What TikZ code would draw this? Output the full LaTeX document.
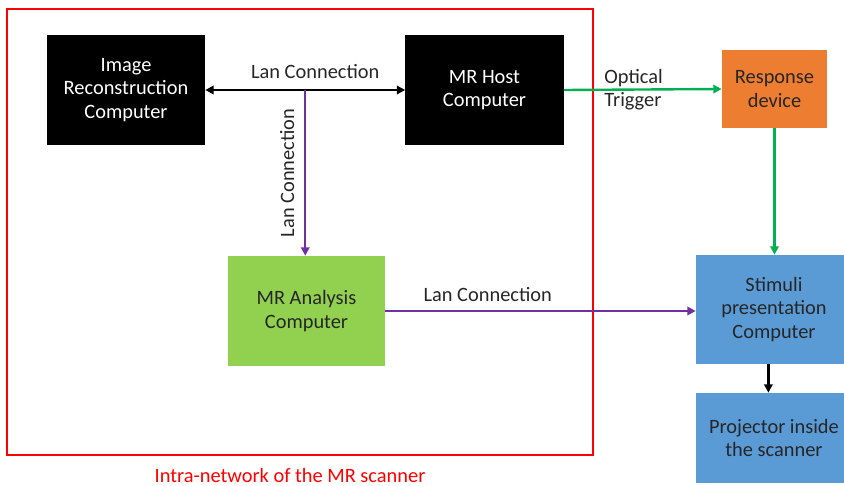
\documentclass[tikz,border=0pt]{standalone}
\usepackage{fontspec}
\setmainfont{Carlito}
\usetikzlibrary{arrows.meta,positioning,calc}

\definecolor{hostblack}{HTML}{000000}
\definecolor{resporange}{HTML}{ED7D31}
\definecolor{analysisgreen}{HTML}{92D050}
\definecolor{stimblue}{HTML}{5B9BD5}
\definecolor{lanpurple}{HTML}{7030A0}
\definecolor{trigreen}{HTML}{00B050}
\definecolor{darktext}{HTML}{262626}

\tikzset{
  unit/.style={align=center, inner sep=0pt, font=\fontsize{14.5}{16.5}\selectfont},
  pcbox/.style={unit, fill=hostblack, text=white, minimum width=3.95cm, minimum height=2.75cm},
  link/.style={line width=1.7pt, -{Triangle[length=6pt,width=6pt]}},
  linklabel/.style={font=\fontsize{14.5}{16.5}\selectfont, text=darktext, inner sep=0pt}
}

\begin{document}
\begin{tikzpicture}[x=0.025cm,y=-0.025cm]
  \useasboundingbox (0,0) rectangle (844,486);

  % scanner network frame
  \draw[red, line width=1.6pt] (7,9) rectangle (593,455);
  \node[text=red, font=\fontsize{14.5}{16.5}\selectfont] (netlabel) at (290,475) {Intra-network of the MR scanner};

  % computers inside the network
  \node[pcbox] (recon) at (126,90) {Image\\Reconstruction\\Computer};
  \node[pcbox] (host) at (484.5,90) {MR Host\\Computer};
  \node[unit, fill=analysisgreen, text=darktext, minimum width=3.925cm, minimum height=2.75cm] (analysis) at (306.5,311) {MR Analysis\\Computer};

  % devices outside
  \node[unit, fill=resporange, text=darktext, minimum width=2.625cm, minimum height=1.95cm] (resp) at (774.5,89) {Response\\device};
  \node[unit, fill=stimblue, text=darktext, minimum width=3.9cm, minimum height=2.725cm] (stim) at (774,309.5) {Stimuli\\presentation\\Computer};
  \node[unit, fill=stimblue, text=darktext, minimum width=3.9cm, minimum height=2.25cm] (proj) at (774,438) {Projector inside\\the scanner};

  % connections
  \draw[link, {Triangle[length=6pt,width=6pt]}-{Triangle[length=6pt,width=6pt]}, line width=1.5pt] (recon.east) -- (host.west)
    node[linklabel, pos=0.55, above=7pt] (lanA) {Lan Connection};
  \coordinate (split) at ($(recon.east)!0.5!(host.west)$);
  \draw[link, lanpurple] (split) -- (split |- analysis.north)
    node[linklabel, pos=0.5, left=7pt, rotate=90, anchor=south] (lanB) {Lan Connection};
  \draw[link, lanpurple] (analysis.east) -- (analysis.east -| stim.west)
    node[linklabel, pos=0.33, above=6pt] (lanC) {Lan Connection};
  \draw[link, trigreen] (host.east) -- (resp.west)
    node[linklabel, pos=0.25, anchor=west, align=left] (trig) {Optical\\Trigger};
  \draw[link, trigreen] (resp.south) -- (resp.south |- stim.north);
  \draw[link, black] ([xshift=-4]stim.south) -- ([xshift=-4]stim.south |- proj.north);
\end{tikzpicture}
\end{document}
